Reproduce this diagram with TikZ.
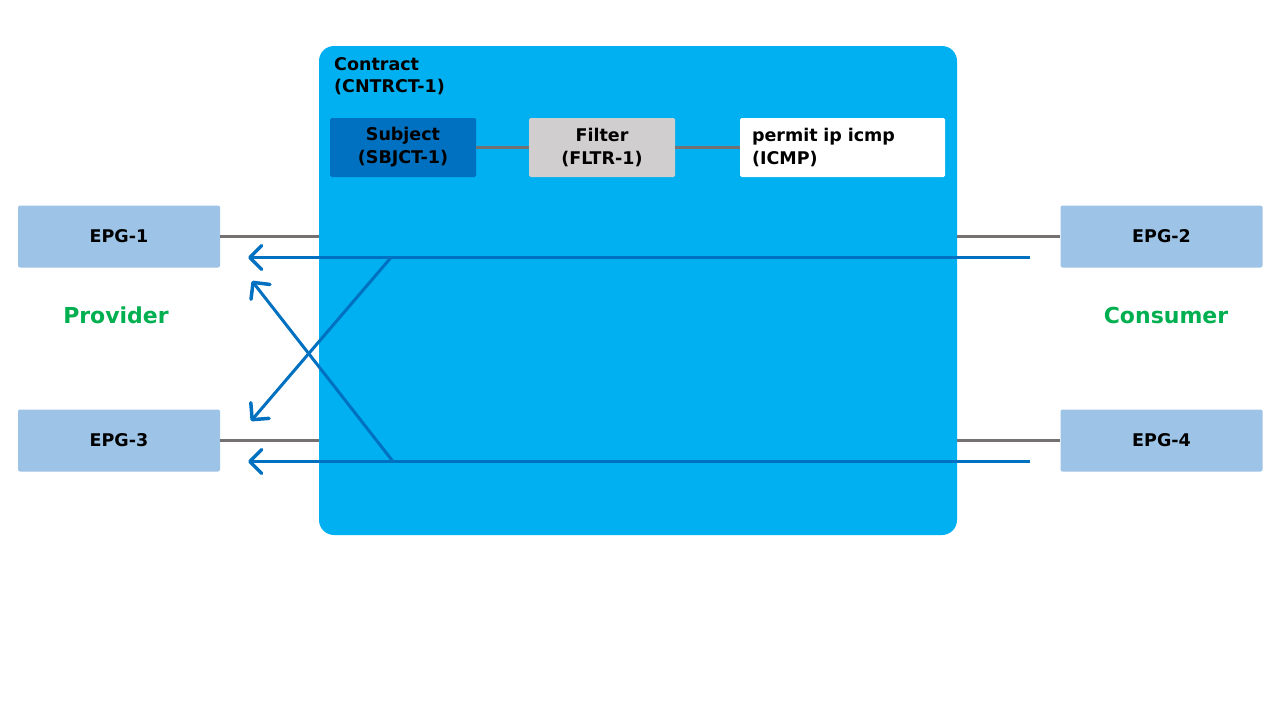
\documentclass[tikz,border=0pt]{standalone}
\usepackage{fontspec}
\setmainfont{DejaVu Sans}
\usetikzlibrary{arrows.meta}
\definecolor{cblue}{HTML}{00B0F0}
\definecolor{dblue}{HTML}{0070C0}
\definecolor{lgray}{HTML}{D0CECE}
\definecolor{epgc}{HTML}{9DC3E6}
\definecolor{lgrn}{HTML}{00B050}
\definecolor{conn}{HTML}{767171}
\tikzset{
  box/.style={inner sep=0pt, font=\fontsize{17.5}{23}\selectfont\bfseries, align=center},
  epg/.style={box, fill=epgc, minimum width=202pt, minimum height=62pt, rounded corners=2pt},
  sub/.style={box, minimum width=146pt, minimum height=59pt, rounded corners=1.5pt},
  gline/.style={draw=conn, line width=3pt},
  barrow/.style={draw=dblue, line width=3pt, -{Straight Barb[length=12pt, width=24pt, line width=3.5pt, round]}},
  bline/.style={draw=dblue, line width=3pt},
  role/.style={font=\fontsize{22}{26}\selectfont\bfseries, text=lgrn}
}
\begin{document}
\begin{tikzpicture}[x=1pt, y=-1pt]
\useasboundingbox (0,0) rectangle (1280,720);
\fill[white] (0,0) rectangle (1280,720);
\node[fill=cblue, rounded corners=15pt, minimum width=638pt, minimum height=489pt, inner sep=0pt] (ctr) at (638,290.5) {};
\node[anchor=north west, font=\fontsize{17.5}{22}\selectfont\bfseries, align=left, inner sep=0pt] (ctrl) at (334,57) {Contract\\(CNTRCT-1)};
\node[sub, fill=dblue] (sbj) at (403,147.5) {Subject\\(SBJCT-1)};
\node[sub, fill=lgray] (flt) at (602,147.5) {Filter\\(FLTR-1)};
\node[sub, fill=white, minimum width=205pt, align=left, text width=181pt] (prm) at (842.5,147.5) {permit ip icmp\\(ICMP)};
\draw[gline] (sbj.east) -- (flt.west);
\draw[gline] (flt.east) -- (prm.west);
\node[epg] (e1) at (119,236.5) {EPG-1};
\node[epg] (e3) at (119,440.5) {EPG-3};
\node[epg] (e2) at (1161.5,236.5) {EPG-2};
\node[epg] (e4) at (1161.5,440.5) {EPG-4};
\node[role] (prov) at (116,315) {Provider};
\node[role] (cons) at (1166,315) {Consumer};
\draw[gline] (e1.east) -- (e1.east -| ctr.west);
\draw[gline] (e3.east) -- (e3.east -| ctr.west);
\draw[gline] (e2.west) -- (e2.west -| ctr.east);
\draw[gline] (e4.west) -- (e4.west -| ctr.east);
\coordinate (r1) at (1030,257.5);
\coordinate (r2) at (1030,461.5);
\coordinate (k1) at (391,257.5);
\coordinate (k2) at (393,461.5);
\coordinate (t1) at (248,257.5);
\coordinate (t3) at (248,461.5);
\coordinate (t13) at (251,421);
\coordinate (t31) at (252,281);
\draw[bline] (r1) -- (k1);
\draw[barrow] (k1) -- (t1);
\draw[bline] (r2) -- (k2);
\draw[barrow] (k2) -- (t3);
\draw[barrow] (k1) -- (t13);
\draw[barrow] (k2) -- (t31);
\end{tikzpicture}
\end{document}
